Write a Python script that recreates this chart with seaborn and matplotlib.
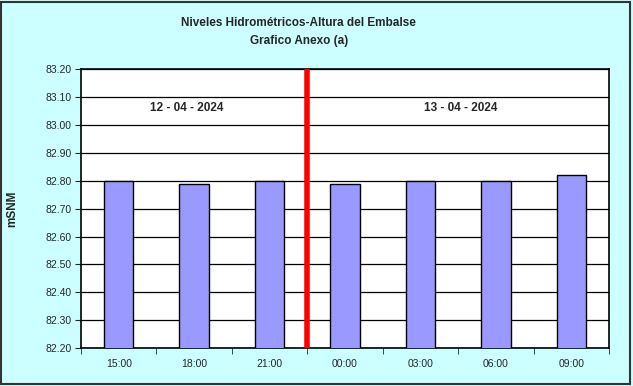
import numpy as np
import pandas as pd
import matplotlib
matplotlib.use("Agg")
import matplotlib.pyplot as plt
import seaborn as sns

horas = ["15:00", "18:00", "21:00", "00:00", "03:00", "06:00", "09:00"]
niveles = [82.80, 82.79, 82.80, 82.79, 82.80, 82.80, 82.82]
fechas = ["12 - 04 - 2024", "13 - 04 - 2024"]

df = pd.DataFrame({"hora": horas, "nivel": niveles})

sns.set_style("white")
plt.rcParams["font.family"] = ["Liberation Sans", "DejaVu Sans"]

fig = plt.figure(figsize=(6.33, 3.86), dpi=100, facecolor="#CCFFFF")
ax = fig.add_axes([0.128, 0.098, 0.834, 0.723])

sns.barplot(data=df, x="hora", y="nivel", color="#9999FF", width=0.39,
            edgecolor="black", linewidth=1, saturation=1, ax=ax, zorder=3)

ax.set_ylim(82.20, 83.20)
ax.set_xlim(-0.5, len(horas) - 0.5)
ax.set_yticks(np.arange(82.20, 83.21, 0.10))
ax.set_yticklabels([f"{v:.2f}" for v in np.arange(82.20, 83.21, 0.10)], fontsize=7.5)
ax.yaxis.grid(True, color="black", linewidth=0.9)
ax.set_axisbelow(True)
ax.tick_params(axis="x", length=0, labelsize=7.5, pad=8)
ax.tick_params(axis="y", length=4, direction="out", left=True, pad=3)
ax.set_xticks(np.arange(-0.5, len(horas), 1.0), minor=True)
ax.tick_params(axis="x", which="minor", length=4, direction="out", bottom=True)
for s in ax.spines.values():
    s.set_color("black")
    s.set_linewidth(1.2)

ax.set_xlabel("")
ax.set_ylabel("mSNM", fontsize=8.5, fontweight="bold", labelpad=19)

# separador de días
ax.axvline(2.5, color="#FF0000", linewidth=4, zorder=4)

ax.text(0.9, 83.06, fechas[0], ha="center", va="center", fontsize=8.5, fontweight="bold")
ax.text(4.53, 83.06, fechas[1], ha="center", va="center", fontsize=8.5, fontweight="bold")

fig.text(0.472, 0.940, "Niveles Hidrométricos-Altura del Embalse", ha="center",
         va="center", fontsize=8.5, fontweight="bold")
fig.text(0.472, 0.894, "Grafico Anexo (a)", ha="center", va="center",
         fontsize=8.5, fontweight="bold")

fig.patches.append(plt.Rectangle((0.002, 0.004), 0.994, 0.992, transform=fig.transFigure,
                                 fill=False, edgecolor="#333333", linewidth=1.5))

fig.savefig("out.png", dpi=100, facecolor=fig.get_facecolor())
